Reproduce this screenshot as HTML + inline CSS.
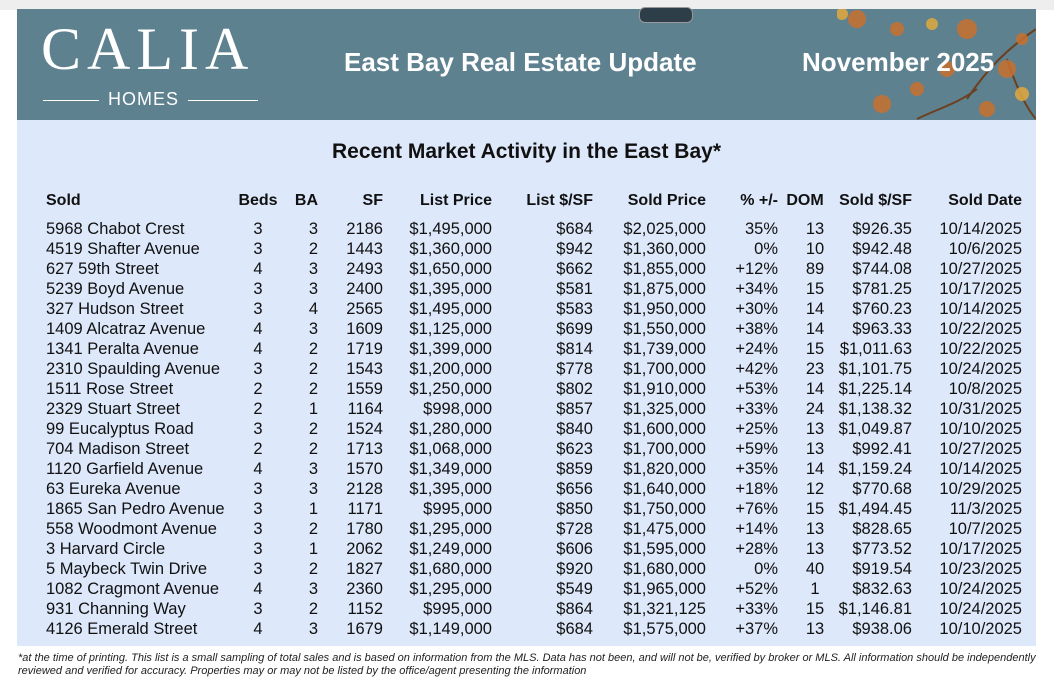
<!DOCTYPE html>
<html><head><meta charset="utf-8"><style>
body{margin:0;width:1054px;height:688px;background:#fff;font-family:"Liberation Sans",sans-serif;position:relative;overflow:hidden}
#top{position:absolute;left:0;top:0;width:1054px;height:10px;background:#eee}
#banner{position:absolute;left:17px;top:9px;width:1019px;height:111px;background:#5e8190}
#panel{position:absolute;left:17px;top:120px;width:1019px;height:526px;background:#dde8fa}
.t{position:absolute;white-space:nowrap;color:#111}
table{position:absolute;left:46px;top:190px;border-collapse:collapse;table-layout:fixed;width:976px;font-size:16.5px;color:#111}
td,th{padding:0;height:20px;line-height:20px;white-space:nowrap;overflow:visible}
th{font-weight:bold;height:22px;font-size:16px}
.r{text-align:right}.c{text-align:center}.l{text-align:left}
#foot{position:absolute;left:18px;top:652px;font-size:11px;font-style:italic;color:#222;line-height:13px;width:1030px}
</style></head><body>
<div id="top"></div>
<div id="banner">
<div class="t" style="left:24px;top:8px;font-family:'Liberation Serif',serif;font-size:60px;line-height:64px;color:#fff;letter-spacing:6px">CALIA</div>
<div class="t" style="left:26px;top:80px;font-size:18px;color:#fff;letter-spacing:1px"><span style="display:inline-block;width:56px;height:1px;background:#fff;vertical-align:middle;margin-right:9px"></span>HOMES<span style="display:inline-block;width:70px;height:1px;background:#fff;vertical-align:middle;margin-left:9px"></span></div>
<div class="t" style="left:327px;top:38px;font-size:26px;font-weight:bold;color:#fff">East Bay Real Estate Update</div>
<svg style="position:absolute;left:820px;top:0" width="199" height="150">
<path d="M199 20 C170 40 150 60 130 90 M170 50 C180 80 190 100 199 110 M140 80 C120 95 100 100 80 110" stroke="#6b4020" stroke-width="2" fill="none"/>
<g fill="#c8702e" opacity="0.85"><circle cx="20" cy="10" r="9"/><circle cx="60" cy="20" r="7"/><circle cx="130" cy="20" r="10"/><circle cx="170" cy="60" r="9"/><circle cx="110" cy="60" r="8"/><circle cx="45" cy="95" r="9"/><circle cx="150" cy="100" r="8"/><circle cx="80" cy="80" r="7"/><circle cx="185" cy="30" r="6"/></g>
<g fill="#e0a840" opacity="0.85"><circle cx="5" cy="5" r="6"/><circle cx="95" cy="15" r="6"/><circle cx="185" cy="85" r="7"/><circle cx="110" cy="120" r="6"/></g>
</svg>
<div class="t" style="left:785px;top:38px;font-size:26px;font-weight:bold;color:#fff">November 2025</div>
</div>
<div style="position:absolute;left:639px;top:7px;width:52px;height:14px;border-radius:6px;background:#2d3e48;border:1px solid #999"></div>
<div id="panel">
<div class="t" style="left:0;width:1019px;text-align:center;top:20px;font-size:21px;font-weight:bold">Recent Market Activity in the East Bay*</div>
</div>
<table id="tbl">
<colgroup><col style="width:184px"><col style="width:56px"><col style="width:32px"><col style="width:65px"><col style="width:109px"><col style="width:101px"><col style="width:113px"><col style="width:72px"><col style="width:54px"><col style="width:80px"><col style="width:110px"></colgroup>
<thead><tr><th class="l">Sold</th><th class="c">Beds</th><th class="r">BA</th><th class="r">SF</th><th class="r">List Price</th><th class="r">List $/SF</th><th class="r">Sold Price</th><th class="r">% +/-</th><th class="c">DOM</th><th class="r">Sold $/SF</th><th class="r">Sold Date</th></tr>
<tr><td colspan="11" style="height:7px"></td></tr></thead>
<tbody id="tb"></tbody></table>
<div id="foot">*at the time of printing. This list is a small sampling of total sales and is based on information from the MLS. Data has not been, and will not be, verified by broker or MLS. All information should be independently reviewed and verified for accuracy. Properties may or may not be listed by the office/agent presenting the information</div>
<script>
const rows=[
["5968 Chabot Crest","3","3","2186","$1,495,000","$684","$2,025,000","35%","13","$926.35","10/14/2025"],
["4519 Shafter Avenue","3","2","1443","$1,360,000","$942","$1,360,000","0%","10","$942.48","10/6/2025"],
["627 59th Street","4","3","2493","$1,650,000","$662","$1,855,000","+12%","89","$744.08","10/27/2025"],
["5239 Boyd Avenue","3","3","2400","$1,395,000","$581","$1,875,000","+34%","15","$781.25","10/17/2025"],
["327 Hudson Street","3","4","2565","$1,495,000","$583","$1,950,000","+30%","14","$760.23","10/14/2025"],
["1409 Alcatraz Avenue","4","3","1609","$1,125,000","$699","$1,550,000","+38%","14","$963.33","10/22/2025"],
["1341 Peralta Avenue","4","2","1719","$1,399,000","$814","$1,739,000","+24%","15","$1,011.63","10/22/2025"],
["2310 Spaulding Avenue","3","2","1543","$1,200,000","$778","$1,700,000","+42%","23","$1,101.75","10/24/2025"],
["1511 Rose Street","2","2","1559","$1,250,000","$802","$1,910,000","+53%","14","$1,225.14","10/8/2025"],
["2329 Stuart Street","2","1","1164","$998,000","$857","$1,325,000","+33%","24","$1,138.32","10/31/2025"],
["99 Eucalyptus Road","3","2","1524","$1,280,000","$840","$1,600,000","+25%","13","$1,049.87","10/10/2025"],
["704 Madison Street","2","2","1713","$1,068,000","$623","$1,700,000","+59%","13","$992.41","10/27/2025"],
["1120 Garfield Avenue","4","3","1570","$1,349,000","$859","$1,820,000","+35%","14","$1,159.24","10/14/2025"],
["63 Eureka Avenue","3","3","2128","$1,395,000","$656","$1,640,000","+18%","12","$770.68","10/29/2025"],
["1865 San Pedro Avenue","3","1","1171","$995,000","$850","$1,750,000","+76%","15","$1,494.45","11/3/2025"],
["558 Woodmont Avenue","3","2","1780","$1,295,000","$728","$1,475,000","+14%","13","$828.65","10/7/2025"],
["3 Harvard Circle","3","1","2062","$1,249,000","$606","$1,595,000","+28%","13","$773.52","10/17/2025"],
["5 Maybeck Twin Drive","3","2","1827","$1,680,000","$920","$1,680,000","0%","40","$919.54","10/23/2025"],
["1082 Cragmont Avenue","4","3","2360","$1,295,000","$549","$1,965,000","+52%","1","$832.63","10/24/2025"],
["931 Channing Way","3","2","1152","$995,000","$864","$1,321,125","+33%","15","$1,146.81","10/24/2025"],
["4126 Emerald Street","4","3","1679","$1,149,000","$684","$1,575,000","+37%","13","$938.06","10/10/2025"]];
const cls=["l","c","r","r","r","r","r","r","c","r","r"];
const tb=document.getElementById('tb');
rows.forEach((r,i)=>{const tr=document.createElement('tr');


r.forEach((v,j)=>{const td=document.createElement('td');td.className=cls[j];td.textContent=v;
if(j===8)td.style.paddingLeft='20px';


tr.appendChild(td);});tb.appendChild(tr);});
</script>
</body></html>
